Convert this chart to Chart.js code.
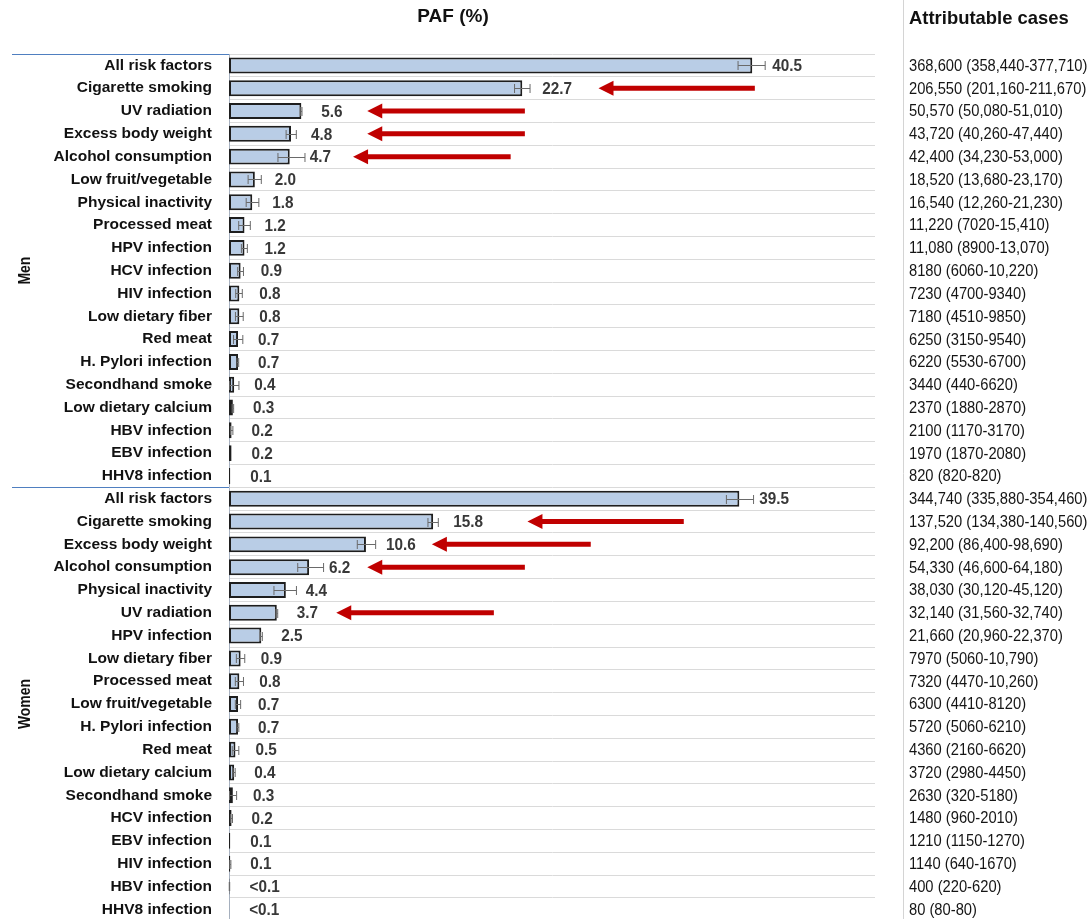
<!DOCTYPE html>
<html>
<head>
<meta charset="utf-8">
<script src="https://cdn.jsdelivr.net/npm/chart.js@4/dist/chart.umd.min.js"></script>
<style>
html,body{margin:0;padding:0;background:#fff;overflow:hidden;}
#wrap{width:1091px;height:919px;position:relative;overflow:hidden;}
canvas{display:block;}
</style>
</head>
<body>
<div id="wrap"><canvas id="c" width="1091" height="947"></canvas></div>
<script>
// ---------- DATA ----------
const menLabels = ['All risk factors','Cigarette smoking','UV radiation','Excess body weight','Alcohol consumption','Low fruit/vegetable','Physical inactivity','Processed meat','HPV infection','HCV infection','HIV infection','Low dietary fiber','Red meat','H. Pylori infection','Secondhand smoke','Low dietary calcium','HBV infection','EBV infection','HHV8 infection'];
const womenLabels = ['All risk factors','Cigarette smoking','Excess body weight','Alcohol consumption','Physical inactivity','UV radiation','HPV infection','Low dietary fiber','Processed meat','Low fruit/vegetable','H. Pylori infection','Red meat','Low dietary calcium','Secondhand smoke','HCV infection','EBV infection','HIV infection','HBV infection','HHV8 infection'];

const menPAF   = [40.5,22.7,5.6,4.8,4.7,2.0,1.8,1.2,1.2,0.9,0.8,0.8,0.7,0.7,0.4,0.3,0.2,0.2,0.1];
const womenPAF = [39.5,15.8,10.6,6.2,4.4,3.7,2.5,0.9,0.8,0.7,0.7,0.5,0.4,0.3,0.2,0.1,0.1,0.04,0.01];

const menLow   = [39.4,22.1,5.55,4.42,3.79,1.48,1.33,0.75,0.96,0.67,0.52,0.50,0.35,0.62,0.05,0.24,0.11,0.19,0.1];
const menHigh  = [41.5,23.3,5.65,5.21,5.88,2.50,2.31,1.65,1.42,1.12,1.03,1.10,1.07,0.75,0.77,0.36,0.30,0.21,0.1];
const womenLow  = [38.5,15.4,9.93,5.32,3.48,3.63,2.42,0.57,0.49,0.49,0.62,0.25,0.32,0.04,0.13,0.095,0.056,0.02,0.01];
const womenHigh = [40.6,16.2,11.35,7.32,5.22,3.77,2.58,1.22,1.12,0.90,0.76,0.76,0.48,0.59,0.27,0.105,0.146,0.054,0.01];

const menText   = ['40.5','22.7','5.6','4.8','4.7','2.0','1.8','1.2','1.2','0.9','0.8','0.8','0.7','0.7','0.4','0.3','0.2','0.2','0.1'];
const womenText = ['39.5','15.8','10.6','6.2','4.4','3.7','2.5','0.9','0.8','0.7','0.7','0.5','0.4','0.3','0.2','0.1','0.1','<0.1','<0.1'];

const menCases = ['368,600 (358,440-377,710)','206,550 (201,160-211,670)','50,570 (50,080-51,010)','43,720 (40,260-47,440)','42,400 (34,230-53,000)','18,520 (13,680-23,170)','16,540 (12,260-21,230)','11,220 (7020-15,410)','11,080 (8900-13,070)','8180 (6060-10,220)','7230 (4700-9340)','7180 (4510-9850)','6250 (3150-9540)','6220 (5530-6700)','3440 (440-6620)','2370 (1880-2870)','2100 (1170-3170)','1970 (1870-2080)','820 (820-820)'];
const womenCases = ['344,740 (335,880-354,460)','137,520 (134,380-140,560)','92,200 (86,400-98,690)','54,330 (46,600-64,180)','38,030 (30,120-45,120)','32,140 (31,560-32,740)','21,660 (20,960-22,370)','7970 (5060-10,790)','7320 (4470-10,260)','6300 (4410-8120)','5720 (5060-6210)','4360 (2160-6620)','3720 (2980-4450)','2630 (320-5180)','1480 (960-2010)','1210 (1150-1270)','1140 (640-1670)','400 (220-620)','80 (80-80)'];

const groupNames = ['Men','Women'];

// red arrows: row index (combined), head value, tail value (PAF units)
const arrowRow  = [1, 2, 3, 4, 20, 21, 22, 24];
const arrowHead = [28.6, 10.7, 10.7, 9.6, 23.1, 15.7, 10.7, 8.3];
const arrowTail = [40.7, 22.9, 22.9, 21.8, 35.2, 28.0, 22.9, 20.5];

// ---------- BUILD ----------
const labels = menLabels.concat(womenLabels);
const values = menPAF.concat(womenPAF);
const lows = menLow.concat(womenLow);
const highs = menHigh.concat(womenHigh);
const texts = menText.concat(womenText);
const cases = menCases.concat(womenCases);

const SANS = "'Liberation Sans',Arial,sans-serif";

function narrowText(ctx, str, x, y, sx) {
  ctx.save();
  ctx.translate(x, y);
  ctx.scale(sx, 1);
  ctx.fillText(str, 0, 0);
  ctx.restore();
}

const overlay = {
  id: 'overlay',
  afterDatasetsDraw(chart) {
    const ctx = chart.ctx;
    const xs = chart.scales.x, ys = chart.scales.y;
    const ca = chart.chartArea;
    ctx.save();
    // error bars
    ctx.strokeStyle = '#6a6a6a';
    ctx.lineWidth = 1;
    for (let i = 0; i < values.length; i++) {
      if (highs[i] - lows[i] < 0.02) continue;
      const y = Math.round(ys.getPixelForValue(i)) + 0.5;
      const x1 = xs.getPixelForValue(lows[i]);
      const x2 = xs.getPixelForValue(highs[i]);
      ctx.beginPath();
      ctx.moveTo(x1, y); ctx.lineTo(x2, y);
      ctx.moveTo(x1, y - 4.5); ctx.lineTo(x1, y + 4.5);
      ctx.moveTo(x2, y - 4.5); ctx.lineTo(x2, y + 4.5);
      ctx.stroke();
    }
    // value labels
    ctx.fillStyle = '#383838';
    ctx.font = 'bold 17px ' + SANS;
    ctx.textBaseline = 'middle';
    ctx.textAlign = 'left';
    for (let i = 0; i < values.length; i++) {
      const y = ys.getPixelForValue(i);
      const x = Math.max(xs.getPixelForValue(values[i]) + 20, xs.getPixelForValue(highs[i]) + 3);
      narrowText(ctx, texts[i], x, y + 1, 0.9);
    }
    // arrows
    ctx.strokeStyle = '#c00000';
    ctx.fillStyle = '#c00000';
    ctx.lineWidth = 5;
    for (let k = 0; k < arrowRow.length; k++) {
      const y = ys.getPixelForValue(arrowRow[k]);
      const xh = xs.getPixelForValue(arrowHead[k]);
      const xt = xs.getPixelForValue(arrowTail[k]);
      ctx.beginPath();
      ctx.moveTo(xt, y); ctx.lineTo(xh + 12, y);
      ctx.stroke();
      ctx.beginPath();
      ctx.moveTo(xh, y);
      ctx.lineTo(xh + 15, y - 7.5);
      ctx.lineTo(xh + 15, y + 7.5);
      ctx.closePath();
      ctx.fill();
    }
    // attributable cases column
    ctx.fillStyle = '#151515';
    ctx.font = '16px ' + SANS;
    for (let i = 0; i < cases.length; i++) {
      narrowText(ctx, cases[i], 909, ys.getPixelForValue(i) + 1, 0.92);
    }
    // vertical separator
    ctx.strokeStyle = '#d4d4d4';
    ctx.lineWidth = 1;
    ctx.beginPath(); ctx.moveTo(903.5, 0); ctx.lineTo(903.5, 947); ctx.stroke();
    // blue group separators on the left
    const nMen = menLabels.length;
    const yMid = (ys.getPixelForValue(nMen - 1) + ys.getPixelForValue(nMen)) / 2;
    ctx.strokeStyle = '#4f7fc0';
    ctx.lineWidth = 1.2;
    ctx.beginPath();
    ctx.moveTo(12, Math.round(ca.top) + 0.5); ctx.lineTo(ca.left, Math.round(ca.top) + 0.5);
    ctx.moveTo(12, Math.round(yMid) + 0.5); ctx.lineTo(ca.left, Math.round(yMid) + 0.5);
    ctx.stroke();
    // headers
    ctx.fillStyle = '#111';
    ctx.font = 'bold 19px ' + SANS;
    ctx.textAlign = 'center';
    ctx.fillText('PAF (%)', 453, 17);
    ctx.textAlign = 'left';
    narrowText(ctx, 'Attributable cases', 909, 19, 0.97);
    // group labels
    ctx.font = 'bold 16px ' + SANS;
    ctx.textAlign = 'center';
    const gCenters = [
      (ys.getPixelForValue(0) + ys.getPixelForValue(nMen - 1)) / 2,
      (ys.getPixelForValue(nMen) + ys.getPixelForValue(labels.length - 1)) / 2
    ];
    for (let g = 0; g < 2; g++) {
      ctx.save();
      ctx.translate(26, gCenters[g]);
      ctx.rotate(-Math.PI / 2);
      ctx.scale(0.87, 1);
      ctx.fillText(groupNames[g], 0, 0);
      ctx.restore();
    }
    ctx.restore();
  }
};

new Chart(document.getElementById('c'), {
  type: 'bar',
  data: {
    labels: labels,
    datasets: [{
      data: values,
      backgroundColor: '#b9cde6',
      borderColor: '#1e1e1e',
      borderWidth: 2,
      borderSkipped: false,
      barPercentage: 0.7,
      categoryPercentage: 1.0
    }]
  },
  options: {
    indexAxis: 'y',
    responsive: false,
    devicePixelRatio: 1,
    animation: false,
    layout: { padding: { top: 54, right: 216, bottom: 0, left: 0 } },
    plugins: { legend: { display: false }, tooltip: { enabled: false } },
    scales: {
      x: { display: false, min: 0, max: 50 },
      y: {
        offset: true,
        grid: { color: '#dadada', drawTicks: false, offset: true },
        border: { display: true, color: '#a8b2c0', width: 1 },
        ticks: { color: '#111', font: { family: SANS, size: 15.5, weight: 'bold' }, padding: 17, autoSkip: false },
        afterFit(s) { s.width = 229; }
      }
    }
  },
  plugins: [overlay]
});
</script>
</body>
</html>
